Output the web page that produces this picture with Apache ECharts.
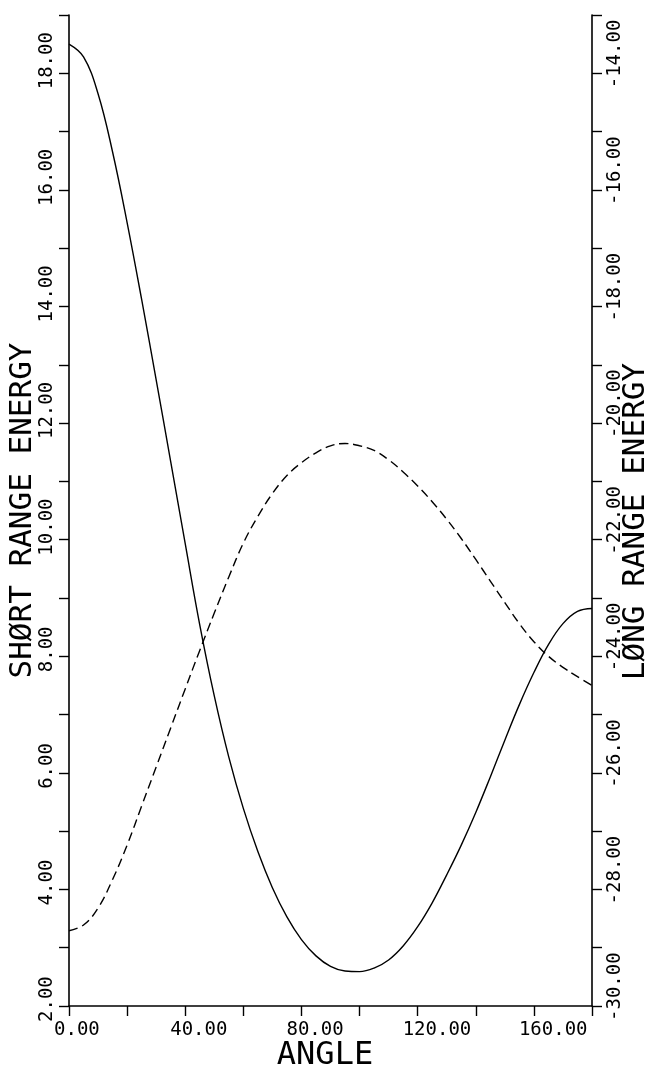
<!DOCTYPE html>
<html><head><meta charset="utf-8">
<script src="https://cdn.jsdelivr.net/npm/echarts@6/dist/echarts.min.js"></script>
<style>html,body{margin:0;padding:0;background:#fff}#c{width:654px;height:1067px}</style>
</head><body><div id="c"></div>
<script>
// ---- data ----
const angles = [0,5,10,15,20,25,30,35,40,45,50,55,60,65,70,75,80,85,90,95,100,105,110,115,120,125,130,135,140,145,150,155,160,165,170,175,180];
const shortRangeEnergy = [18.50,18.28,17.65,16.65,15.44,14.12,12.74,11.34,9.93,8.54,7.32,6.27,5.39,4.65,4.03,3.53,3.14,2.86,2.68,2.60,2.59,2.65,2.79,3.03,3.36,3.77,4.25,4.76,5.32,5.93,6.56,7.17,7.72,8.20,8.56,8.77,8.82];
const longRangeEnergy = [-28.71,-28.61,-28.32,-27.83,-27.24,-26.57,-25.90,-25.23,-24.56,-23.90,-23.26,-22.64,-22.06,-21.60,-21.21,-20.90,-20.68,-20.51,-20.39,-20.35,-20.39,-20.47,-20.63,-20.84,-21.08,-21.35,-21.65,-21.98,-22.34,-22.71,-23.08,-23.44,-23.75,-24.00,-24.19,-24.35,-24.50];
const xTickLabels = ['0.00','40.00','80.00','120.00','160.00'];
const leftTickLabels = ['2.00','4.00','6.00','8.00','10.00','12.00','14.00','16.00','18.00'];
const rightTickLabels = ['-30.00','-28.00','-26.00','-24.00','-22.00','-20.00','-18.00','-16.00','-14.00'];
const xName = 'ANGLE';
const leftName = 'SHØRT RANGE ENERGY';
const rightName = 'LØNG RANGE ENERGY';

// ---- chart ----
const FONT = '"DejaVu Sans Mono", "Liberation Mono", monospace';
const pick = list => v => { const s = Number(v).toFixed(2); return list.includes(s) ? s : ''; };
const axisLine = { show: true, onZero: false, lineStyle: { color: '#000', width: 1.6 } };
const axisTick = { show: true, inside: false, length: 10, lineStyle: { color: '#000', width: 1.4 } };

const chart = echarts.init(document.getElementById('c'), null, { renderer: 'canvas' });
chart.setOption({
  backgroundColor: '#fff',
  animation: false,
  grid: { left: 69, right: 62, top: 15, bottom: 61, containLabel: false, outerBoundsMode: 'none' },
  xAxis: {
    type: 'value', min: 0, max: 180, interval: 20,
    axisLine, axisTick, splitLine: { show: false },
    axisLabel: { formatter: pick(xTickLabels), color: '#000', fontFamily: FONT, fontSize: 19,
      margin: 15, align: 'left', padding: [0, 0, 0, -15], showMinLabel: true, showMaxLabel: true },
    name: xName, nameLocation: 'middle', nameGap: 34, nameMoveOverlap: false,
    nameTextStyle: { color: '#000', fontFamily: FONT, fontSize: 32, padding: [0, 11, 0, 0] }
  },
  yAxis: [
    {
      type: 'value', min: 2, max: 19, interval: 1, position: 'left',
      axisLine, axisTick, splitLine: { show: false },
      axisLabel: { formatter: pick(leftTickLabels), color: '#000', fontFamily: FONT, fontSize: 19,
        rotate: 90, margin: 12, align: 'left', verticalAlign: 'bottom', padding: [0, 0, 0, -16],
        showMinLabel: true, showMaxLabel: true },
      name: leftName, nameLocation: 'middle', nameRotate: 90, nameGap: 31, nameMoveOverlap: false,
      nameTextStyle: { color: '#000', fontFamily: FONT, fontSize: 31 }
    },
    {
      type: 'value', min: -30, max: -13, interval: 1, position: 'right',
      axisLine, axisTick, splitLine: { show: false },
      axisLabel: { formatter: pick(rightTickLabels), color: '#000', fontFamily: FONT, fontSize: 19,
        rotate: 90, margin: 14, align: 'left', verticalAlign: 'top', padding: [0, 0, 0, -15],
        showMinLabel: true, showMaxLabel: true },
      name: rightName, nameLocation: 'middle', nameRotate: 90, nameGap: 28, nameMoveOverlap: false,
      nameTextStyle: { color: '#000', fontFamily: FONT, fontSize: 31, padding: [0, 0, 0, -22] }
    }
  ],
  series: [
    {
      type: 'line', name: leftName, yAxisIndex: 0, smooth: 0.4, symbol: 'none',
      data: angles.map((a, i) => [a, shortRangeEnergy[i]]),
      lineStyle: { color: '#000', width: 1.4, type: 'solid' }
    },
    {
      type: 'line', name: rightName, yAxisIndex: 1, smooth: 0.4, symbol: 'none',
      data: angles.map((a, i) => [a, longRangeEnergy[i]]),
      lineStyle: { color: '#000', width: 1.4, type: [9, 5] }
    }
  ]
});
</script>
</body></html>
